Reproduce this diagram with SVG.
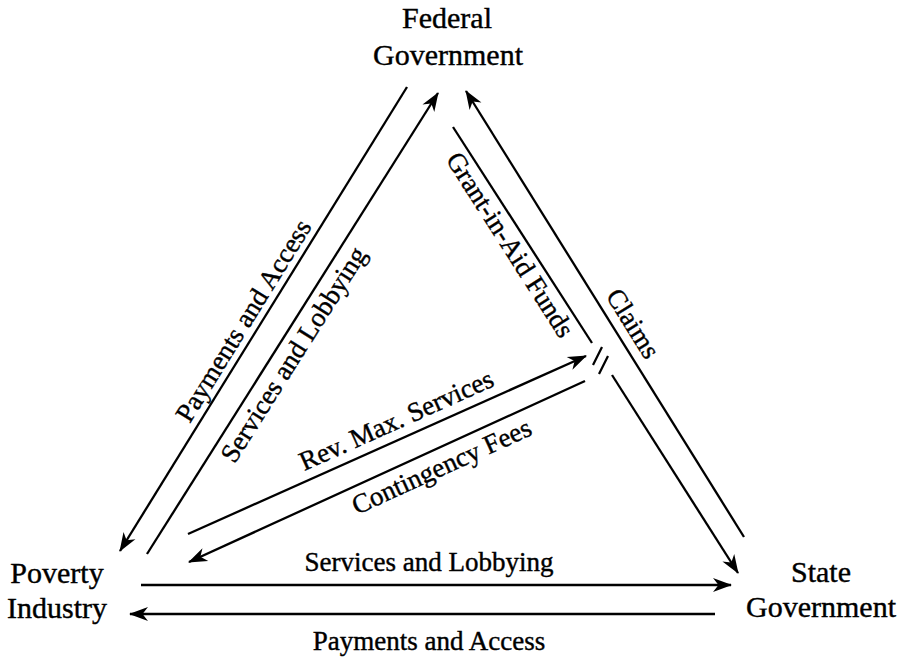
<svg xmlns="http://www.w3.org/2000/svg" width="902" height="658" viewBox="0 0 902 658">
<defs>
<style>
.node{font-family:"Liberation Serif","Times New Roman",serif;font-size:30px;fill:#000;stroke:#000;stroke-width:0.4;text-anchor:middle}
.lbl{font-family:"Liberation Serif","Times New Roman",serif;font-size:27px;fill:#000;stroke:#000;stroke-width:0.4;text-anchor:middle}
.ln{stroke:#000;stroke-width:2.3;fill:none}
.arr{marker-end:url(#ah)}
</style>
<marker id="ah" markerUnits="userSpaceOnUse" viewBox="-20 -9 22 18" markerWidth="22" markerHeight="18" refX="0" refY="0" orient="auto">
<path d="M1,0 L-18,-7 L-12.5,0 L-18,7 Z" fill="#000"/>
</marker>
</defs>
<rect width="902" height="658" fill="#fff"/>
<g id="federal">
<text class="node" x="447" y="28">Federal</text>
<text class="node" x="448" y="65">Government</text>
</g>
<g id="poverty">
<text class="node" x="57" y="583">Poverty</text>
<text class="node" x="57" y="618">Industry</text>
</g>
<g id="state">
<text class="node" x="821" y="582">State</text>
<text class="node" x="821" y="617">Government</text>
</g>
<g id="connectors">
<line class="ln arr" x1="407" y1="87" x2="120" y2="551"/>
<line class="ln arr" x1="147" y1="554" x2="438" y2="93"/>
<line class="ln arr" x1="744" y1="537" x2="466" y2="91"/>
<line class="ln" x1="453" y1="127" x2="592" y2="343"/>
<line class="ln arr" x1="612" y1="375" x2="738" y2="573"/>
<line class="ln" x1="602" y1="347" x2="593" y2="365"/>
<line class="ln" x1="608" y1="356" x2="599" y2="374"/>
<line class="ln arr" x1="188" y1="534" x2="586" y2="356"/>
<line class="ln arr" x1="585" y1="381" x2="189" y2="562"/>
<line class="ln arr" x1="141" y1="585" x2="731" y2="585"/>
<line class="ln arr" x1="715" y1="614" x2="130" y2="614"/>
</g>
<g id="labels">
<text class="lbl" transform="translate(257,329) rotate(-58.2)" x="0" y="-7">Payments and Access</text>
<text class="lbl" transform="translate(279,345.5) rotate(-57.7)" x="0" y="26">Services and Lobbying</text>
<text class="lbl" transform="translate(523,236.6) rotate(57.45)" x="0" y="24">Grant-in-Aid Funds</text>
<text class="lbl" transform="translate(617,333.5) rotate(58.1)" x="0" y="-10">Claims</text>
<text class="lbl" transform="translate(404,437.3) rotate(-24.1)" x="0" y="-10">Rev. Max. Services</text>
<text class="lbl" transform="translate(434,450) rotate(-24.6)" x="0" y="27">Contingency Fees</text>
<text class="lbl" x="429" y="571">Services and Lobbying</text>
<text class="lbl" x="429" y="650">Payments and Access</text>
</g>
</svg>
